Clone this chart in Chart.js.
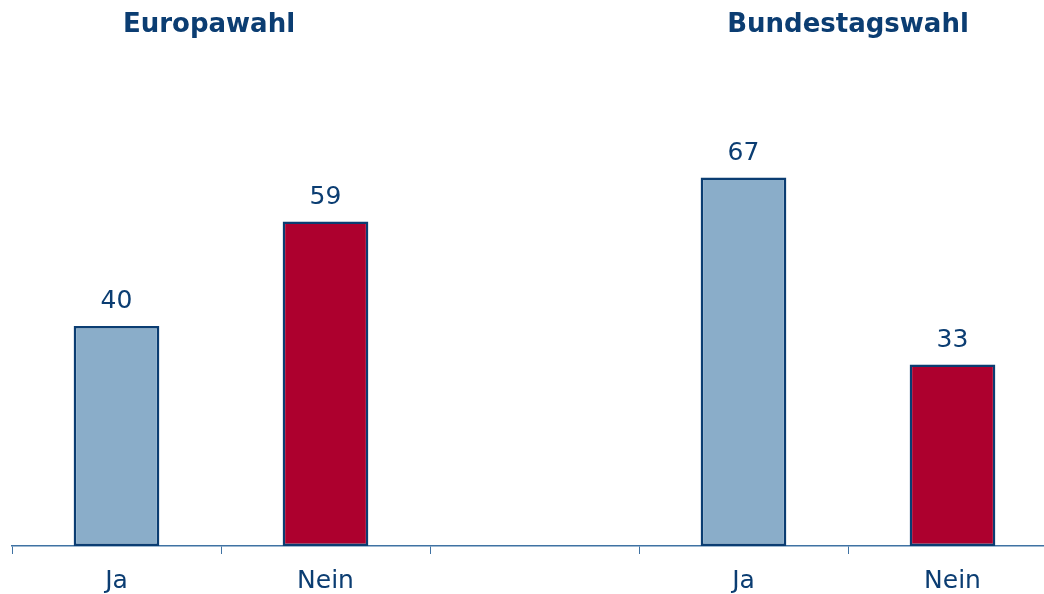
<!DOCTYPE html>
<html>
<head>
<meta charset="utf-8">
<script src="https://cdn.jsdelivr.net/npm/chart.js@4/dist/chart.umd.min.js"></script>
<style>
  html, body { margin: 0; padding: 0; background: #fff; overflow: hidden; }
  #wrap { position: relative; width: 1060px; height: 594px; }
</style>
</head>
<body>
<div id="wrap"><canvas id="chart"></canvas></div>
<script>
// categories along the x axis (third slot is the gap between the two groups)
const categories = ["Ja", "Nein", "", "Ja", "Nein"];
const values = [40, 59, null, 67, 33];
// group titles and the categories they sit over
const groupTitles = ["Europawahl", "Bundestagswahl"];
const groupSpans = [[0, 1], [3, 4]];

const lightBlue = "#8aadc9";
const red = "#ad002e";
const darkBlue = "#0b3d72";
const axisBlue = "#3f72a3";
const barColors = [lightBlue, red, lightBlue, lightBlue, red];

// value labels over bars + group titles
const labelsPlugin = {
  id: "labelsPlugin",
  afterDatasetsDraw(chart) {
    const ctx = chart.ctx;
    const meta = chart.getDatasetMeta(0);
    ctx.save();
    ctx.fillStyle = darkBlue;
    ctx.textAlign = "center";
    ctx.textBaseline = "bottom";
    ctx.font = "25px 'DejaVu Sans'";
    meta.data.forEach((bar, i) => {
      if (values[i] == null) return;
      ctx.fillText(String(values[i]), bar.x, bar.y - 12);
    });
    const xs = chart.scales.x;
    ctx.font = "bold 26px 'DejaVu Sans'";
    ctx.textBaseline = "middle";
    groupTitles.forEach((t, g) => {
      const [a, b] = groupSpans[g];
      const cx = (xs.getPixelForValue(a) + xs.getPixelForValue(b)) / 2;
      ctx.fillText(t, g === 0 ? cx - 12 : cx, 25);
    });
    ctx.restore();
  }
};

new Chart(document.getElementById("chart").getContext("2d"), {
  type: "bar",
  data: {
    labels: categories,
    datasets: [
      {
        data: values,
        backgroundColor: barColors,
        borderColor: darkBlue,
        borderWidth: 2.5,
        borderSkipped: false,
        categoryPercentage: 1,
        barPercentage: 0.41,
      },
    ],
  },
  options: {
    responsive: true,
    maintainAspectRatio: false,
    animation: false,
    layout: { padding: { left: 12, right: 3, top: 0, bottom: 0 } },
    plugins: { legend: { display: false }, tooltip: { enabled: false } },
    scales: {
      x: {
        offset: true,
        grid: {
          drawOnChartArea: false,
          drawTicks: true,
          tickLength: 8,
          color: axisBlue,
          offset: true,
        },
        border: { display: true, color: axisBlue, width: 1.5 },
        ticks: {
          color: darkBlue,
          font: { family: "'DejaVu Sans'", size: 25 },
          padding: 12,
        },
        afterFit(scale) {
          scale.height = 48;
        },
      },
      y: {
        display: false,
        min: 0,
        max: 99.3,
      },
    },
  },
  plugins: [labelsPlugin],
});
</script>
</body>
</html>
